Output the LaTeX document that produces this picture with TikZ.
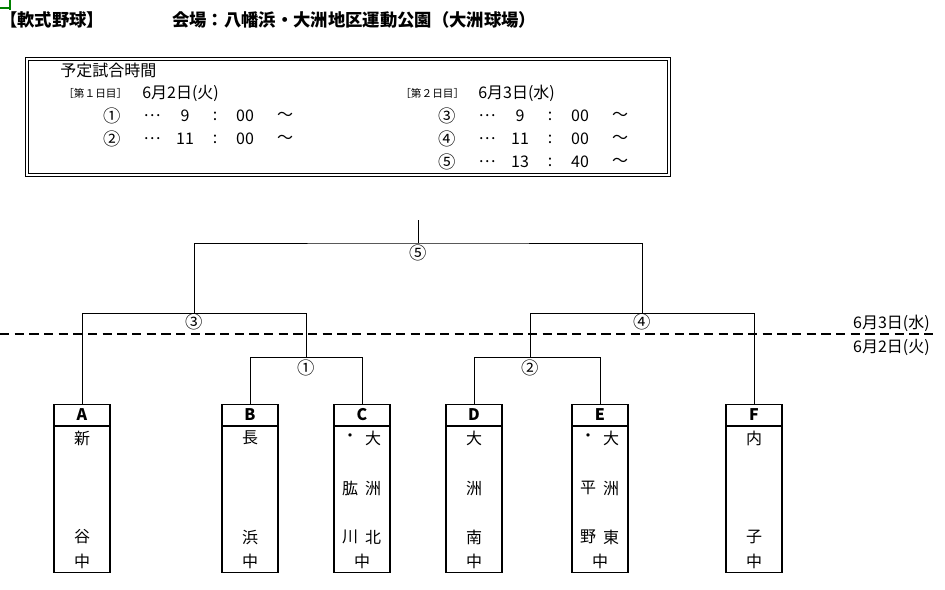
\documentclass[tikz,border=0pt]{standalone}
\usepackage{fontspec}
\setmainfont{Noto Sans CJK JP}
\begin{document}
\begin{tikzpicture}[x=0.75pt,y=-0.75pt,
  t/.style={inner sep=0pt,font=\fontsize{12}{13}\selectfont},
  sm/.style={inner sep=0pt,font=\fontsize{8}{9}\selectfont},
  team/.style={draw,line width=0.8pt,minimum width=42pt,minimum height=126pt,inner sep=0pt},
  ln/.style={line width=0.6pt}]
\useasboundingbox (0,0) rectangle (945,589);
\draw[green!50!black,line width=1pt] (0,8)--(10,8) (10,0)--(10,10);
\node[t,anchor=west,font=\fontsize{13}{14}\selectfont\bfseries] (title) at (0,20) {【軟式野球】};
\node[t,anchor=west,font=\fontsize{13}{14}\selectfont\bfseries] (venue) at (172,20) {会場：八幡浜・大洲地区運動公園（大洲球場）};
\draw[line width=0.7pt] (25,57) rectangle (670,176);
\draw[line width=0.7pt] (28,60) rectangle (667,173);
\node[t,anchor=west] (yt) at (60,70) {予定試合時間};
\node[sm,anchor=west] (d1) at (63,93) {［第１日目］};
\node[t,anchor=west] (d1d) at (142,93) {6月2日(火)};
\node[sm,anchor=west] (d2) at (400,93) {［第２日目］};
\node[t,anchor=west] (d2d) at (478,93) {6月3日(水)};
\foreach \c/\h/\m/\y/\x in {①/9/00/116/112,②/11/00/139/112,③/9/00/116/447,④/11/00/139/447,⑤/13/40/162/447}{
  \node[t,font=\fontsize{13}{14}\selectfont] at (\x,\y) {\c};
  \node[t] at (\x+40,\y) {…};
  \node[t] at (\x+73,\y) {\h};
  \node[t] at (\x+103,\y) {:};
  \node[t] at (\x+133,\y) {\m};
  \node[t] at (\x+173,\y) {～};
}
% teams
\foreach \n/\x in {A/82,B/250,C/362,D/474,E/600,F/754}{
  \node[team,anchor=north] (\n) at (\x,404) {};
  \draw[line width=0.8pt] (\x-28,426)--(\x+28,426);
  \node[t,font=\fontsize{12}{13}\selectfont\bfseries] at (\x,415) {\n};
}
\foreach \x/\a/\b/\c in {82/新//谷,250/長//浜,474/大/洲/南,754/内//子}{
  \node[t] at (\x,438) {\a}; \node[t] at (\x,488) {\b}; \node[t] at (\x,537) {\c};
  \node[t] at (\x,561) {中};
}
\foreach \x/\la/\lb/\lc/\ra/\rb/\rc in {362/・/肱/川/大/洲/北,600/・/平/野/大/洲/東}{
  \node[t] at (\x-12,438) {\la}; \node[t] at (\x-12,488) {\lb}; \node[t] at (\x-12,537) {\lc};
  \node[t] at (\x+11,438) {\ra}; \node[t] at (\x+11,488) {\rb}; \node[t] at (\x+11,537) {\rc};
  \node[t] at (\x,561) {中};
}
% bracket
\coordinate (top) at (418,220);
\coordinate (j1) at (306,357);
\coordinate (j2) at (530,357);
\coordinate (j3) at (194,313);
\coordinate (j4) at (642,313);
\draw[ln] (B.north)--++(0,-47)-|(C.north);
\draw[ln] (D.north)|-(474,357)-|(E.north);
\draw[ln] (A.north)|-(82,313)-|(j1);
\draw[ln] (j2)|-(754,313)--(F.north);
\draw[ln] (j3)|-(418,243)-|(j4);
\draw[ln] (top)--(418,243);
\node[t,font=\fontsize{13}{14}\selectfont] at (306,368) {①};
\node[t,font=\fontsize{13}{14}\selectfont] at (530,368) {②};
\node[t,font=\fontsize{13}{14}\selectfont] at (194,322) {③};
\node[t,font=\fontsize{13}{14}\selectfont] at (642,322) {④};
\node[t,font=\fontsize{13}{14}\selectfont] at (418,253) {⑤};
\draw[line width=1pt,dash pattern=on 7pt off 4pt] (0,334)--(935,334);
\node[t,anchor=east] (l3) at (930,323) {6月3日(水)};
\node[t,anchor=east] (l2) at (930,347) {6月2日(火)};
\end{tikzpicture}
\end{document}
